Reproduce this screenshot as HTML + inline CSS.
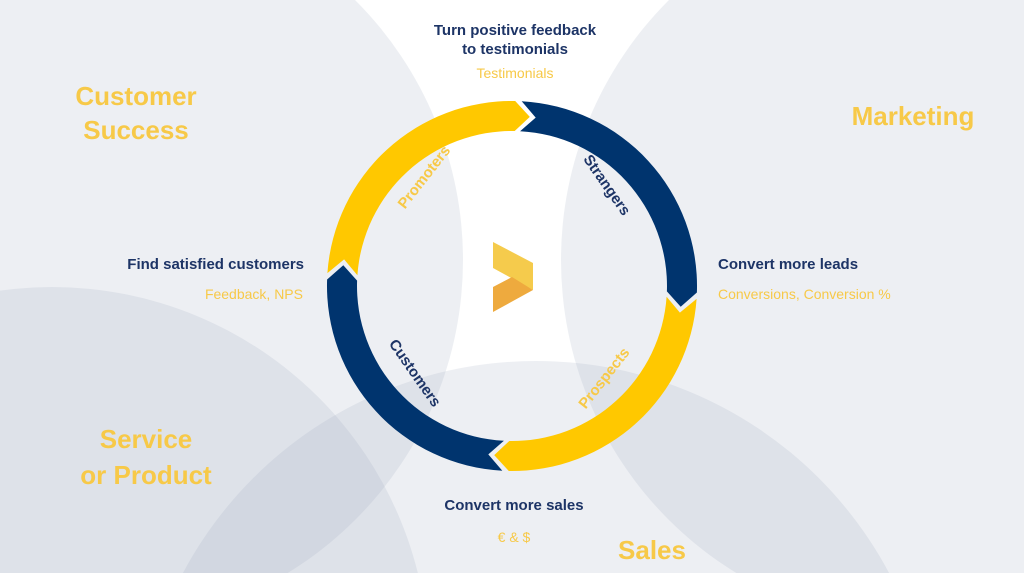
<!DOCTYPE html>
<html><head><meta charset="utf-8"><style>
html,body{margin:0;padding:0;background:#fff;width:1024px;height:573px;overflow:hidden}
svg{display:block}
text{font-family:"Liberation Sans",sans-serif}
</style></head><body>
<svg width="1024" height="573" viewBox="0 0 1024 573" xmlns="http://www.w3.org/2000/svg">
<rect width="1024" height="573" fill="#fff"/>
<g fill="rgb(160,172,192)" fill-opacity="0.19">
<circle cx="96" cy="260" r="367"/>
<circle cx="928" cy="260" r="367"/>
<circle cx="52" cy="664" r="377"/>
<circle cx="536" cy="761" r="400"/>
</g>
<path d="M521.7,101.3 A185,185 0 0 1 696.9,292.5 L680.7,306.7 L666.9,291.4 A155,155 0 0 0 520.1,131.2 L535.7,117.6 Z" fill="#00346E"/>
<path d="M696.6,298.9 A185,185 0 0 1 508.8,471.0 L494.2,455.1 L509.3,441.0 A155,155 0 0 0 666.6,296.8 L679.9,312.6 Z" fill="#FFC800"/>
<path d="M502.3,470.7 A185,185 0 0 1 327.1,279.5 L343.3,265.3 L357.1,280.6 A155,155 0 0 0 503.9,440.8 L488.3,454.4 Z" fill="#00346E"/>
<path d="M327.4,273.1 A185,185 0 0 1 515.2,101.0 L529.8,116.9 L514.7,131.0 A155,155 0 0 0 357.4,275.2 L344.1,259.4 Z" fill="#FFC800"/>
<polygon points="493,242 533,263 533,290 493,268" fill="#F5CB4C"/>
<polygon points="493,287 512,277 533,290 493,312" fill="#EEAA3E"/>
<g font-size="15" font-weight="bold">
<text x="424" y="182" text-anchor="middle" fill="#F7C948" transform="rotate(-52 424 177)">Promoters</text>
<text x="607" y="190" text-anchor="middle" fill="#1D3466" transform="rotate(55 607 185)">Strangers</text>
<text x="415" y="378" text-anchor="middle" fill="#1D3466" transform="rotate(55 415 373)">Customers</text>
<text x="604" y="383" text-anchor="middle" fill="#F7C948" transform="rotate(-52 604 378)">Prospects</text>
</g>
<g font-size="15" font-weight="bold" fill="#1D3466">
<text x="515" y="35" text-anchor="middle">Turn positive feedback</text>
<text x="515" y="54" text-anchor="middle">to testimonials</text>
<text x="304" y="269" text-anchor="end">Find satisfied customers</text>
<text x="718" y="269">Convert more leads</text>
<text x="514" y="510" text-anchor="middle">Convert more sales</text>
</g>
<g font-size="14" fill="#F7C948">
<text x="515" y="78" text-anchor="middle">Testimonials</text>
<text x="303" y="299" text-anchor="end">Feedback, NPS</text>
<text x="718" y="299">Conversions, Conversion %</text>
<text x="514" y="542" text-anchor="middle">€ &amp; $</text>
</g>
<g font-size="26" font-weight="bold" fill="#F7C948" text-anchor="middle">
<text x="136" y="105">Customer</text>
<text x="136" y="139">Success</text>
<text x="913" y="125">Marketing</text>
<text x="146" y="448">Service</text>
<text x="146" y="484">or Product</text>
<text x="652" y="559">Sales</text>
</g>
</svg>
</body></html>
